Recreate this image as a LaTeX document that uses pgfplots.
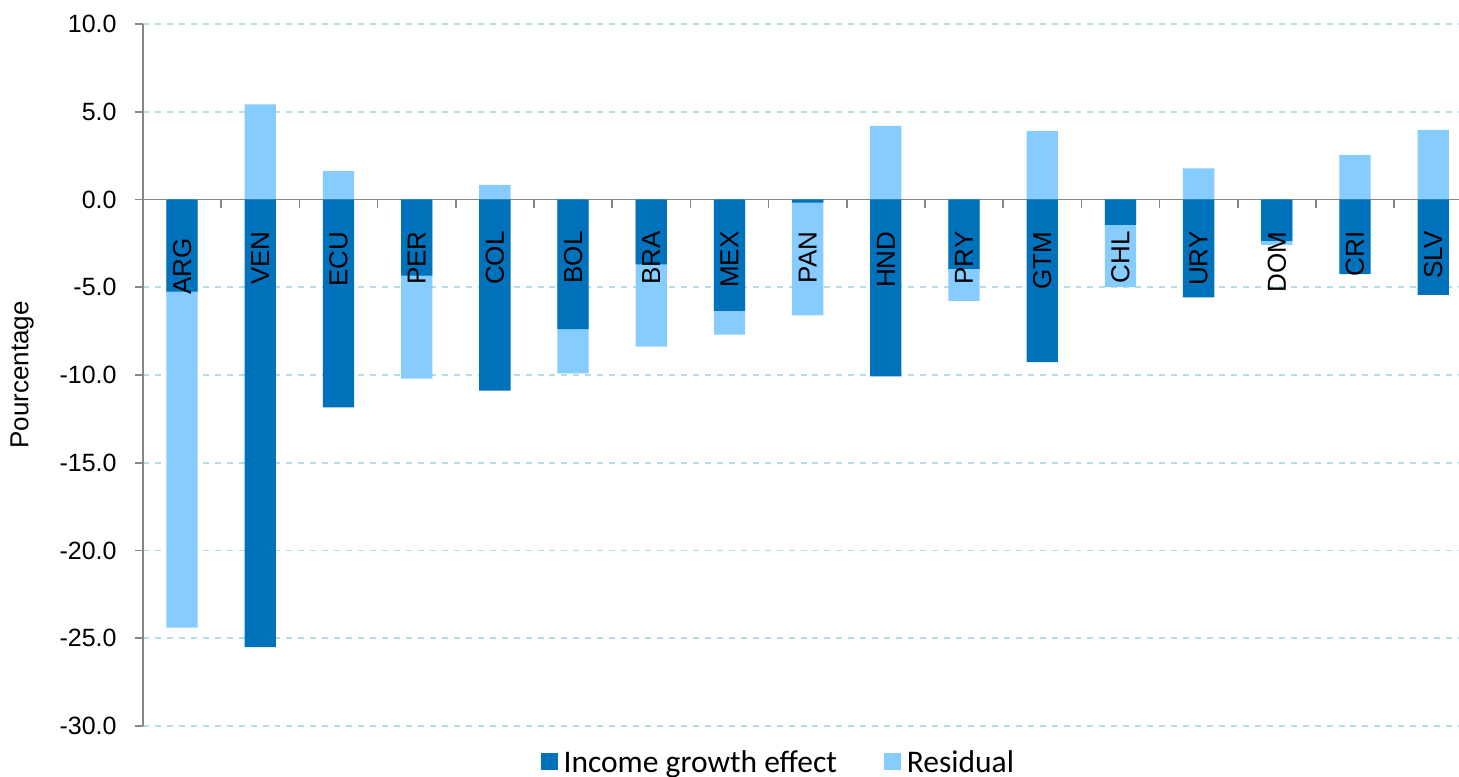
\documentclass[border=0pt]{standalone}
\usepackage{fontspec}
\setmainfont{Liberation Sans}
\newfontfamily\legendfont{Carlito}
\usepackage{pgfplots}
\pgfplotsset{compat=1.18}
\usepackage{pgfplotstable}

\definecolor{incblue}{RGB}{0,114,188}
\definecolor{resblue}{RGB}{135,204,255}
\definecolor{gridcyan}{RGB}{180,222,228}
\definecolor{axisgray}{RGB}{134,134,134}

% income growth effect and residual, percent
\pgfplotstableread{
x   inc     res
0   -5.25  -19.15
1  -25.50    5.42
2  -11.84    1.62
3   -4.34   -5.87
4  -10.89    0.83
5   -7.38   -2.53
6   -3.69   -4.70
7   -6.35   -1.35
8   -0.18   -6.42
9  -10.08    4.19
10  -3.96   -1.82
11  -9.26    3.90
12  -1.45   -3.55
13  -5.57    1.78
14  -2.36   -0.23
15  -4.25    2.54
16  -5.44    3.96
}\decomp

\newcommand{\labfont}{\fontsize{13bp}{15bp}\selectfont}
\newcommand{\tickfont}{\fontsize{12.5bp}{15bp}\selectfont}

\begin{document}
\begin{tikzpicture}
\begin{axis}[
name=ax,
scale only axis,
width=658bp, height=351bp,
xmin=-0.5, xmax=16.33,
ymin=-30, ymax=10,
axis x line*=middle, axis y line*=left,
axis line style={axisgray, line width=0.8pt},
xtick={0.5,1.5,...,15.5}, xticklabels={},
ytick={-30,-25,...,10},
yticklabels={-30.0,-25.0,-20.0,-15.0,-10.0,-5.0,0.0,5.0,10.0},
tick align=outside,
major tick length=4.2bp,
tick style={axisgray, line width=0.8pt},
ymajorgrids,
grid style={gridcyan, dashed, line width=0.8pt},
ticklabel style={font=\tickfont},
yticklabel shift=5.5bp,
ylabel={Pourcentage},
ylabel style={at={(axis description cs:-0.0919,0.5)}, anchor=center, font=\labfont},
ybar, bar width=0.4, bar shift=0pt,
legend image code/.code={\fill[#1] (0bp,-3.5bp) rectangle (8.5bp,5bp);},
legend style={at={(0.482,-0.034)}, anchor=north, draw=none, fill=none,
  legend columns=2, inner sep=0pt, nodes={inner sep=0pt},
  font=\legendfont\fontsize{15.75bp}{18bp}\selectfont,
  /tikz/every odd column/.append style={column sep=3bp},
  /tikz/every even column/.append style={column sep=23.5bp}},
]
\addplot[fill=resblue, draw=none, forget plot] table[x=x,
  y expr={\thisrow{res}<0 ? \thisrow{inc}+\thisrow{res} : \thisrow{res}}] {\decomp};
\addplot[fill=incblue, draw=none, forget plot] table[x=x, y=inc] {\decomp};

\addlegendimage{fill=incblue, draw=none}
\addlegendentry{Income growth effect}
\addlegendimage{fill=resblue, draw=none}
\addlegendentry{Residual}

\node[rotate=90, anchor=east, inner sep=0pt, font=\labfont] at (axis cs:0,-2.2) {ARG};
\node[rotate=90, anchor=east, inner sep=0pt, font=\labfont] at (axis cs:1,-1.8) {VEN};
\node[rotate=90, anchor=east, inner sep=0pt, font=\labfont] at (axis cs:2,-1.8) {ECU};
\node[rotate=90, anchor=east, inner sep=0pt, font=\labfont] at (axis cs:3,-1.8) {PER};
\node[rotate=90, anchor=east, inner sep=0pt, font=\labfont] at (axis cs:4,-1.8) {COL};
\node[rotate=90, anchor=east, inner sep=0pt, font=\labfont] at (axis cs:5,-1.8) {BOL};
\node[rotate=90, anchor=east, inner sep=0pt, font=\labfont] at (axis cs:6,-1.8) {BRA};
\node[rotate=90, anchor=east, inner sep=0pt, font=\labfont] at (axis cs:7,-1.8) {MEX};
\node[rotate=90, anchor=east, inner sep=0pt, font=\labfont] at (axis cs:8,-1.8) {PAN};
\node[rotate=90, anchor=east, inner sep=0pt, font=\labfont] at (axis cs:9,-1.8) {HND};
\node[rotate=90, anchor=east, inner sep=0pt, font=\labfont] at (axis cs:10,-1.8) {PRY};
\node[rotate=90, anchor=east, inner sep=0pt, font=\labfont] at (axis cs:11,-1.8) {GTM};
\node[rotate=90, anchor=east, inner sep=0pt, font=\labfont] at (axis cs:12,-1.8) {CHL};
\node[rotate=90, anchor=east, inner sep=0pt, font=\labfont] at (axis cs:13,-1.8) {URY};
\node[rotate=90, anchor=east, inner sep=0pt, font=\labfont] at (axis cs:14,-1.8) {DOM};
\node[rotate=90, anchor=east, inner sep=0pt, font=\labfont] at (axis cs:15,-1.8) {CRI};
\node[rotate=90, anchor=east, inner sep=0pt, font=\labfont] at (axis cs:16,-1.8) {SLV};
\end{axis}
\pgfresetboundingbox
\path[use as bounding box] ([shift={(-71.5bp,-25.5bp)}]ax.south west) rectangle ([shift={(0bp,12bp)}]ax.north east);
\end{tikzpicture}
\end{document}
